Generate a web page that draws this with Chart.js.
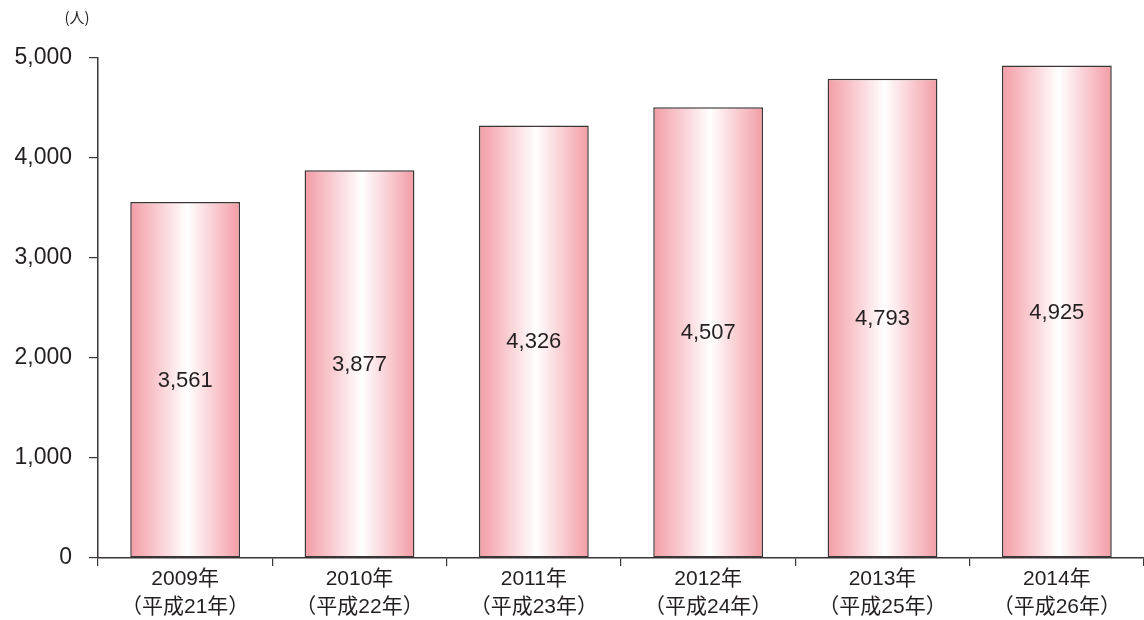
<!DOCTYPE html>
<html>
<head>
<meta charset="utf-8">
<script src="https://cdn.jsdelivr.net/npm/chart.js@4"></script>
<style>
  html, body { margin: 0; padding: 0; background: #fff; }
  #wrap { width: 1144px; height: 620px; position: relative; }
</style>
</head>
<body>
<div id="wrap"><canvas id="chart"></canvas></div>
<script>
// data
const years = ["2009年", "2010年", "2011年", "2012年", "2013年", "2014年"];
const eras = ["（平成21年）", "（平成22年）", "（平成23年）", "（平成24年）", "（平成25年）", "（平成26年）"];
const people = [3561, 3877, 4326, 4507, 4793, 4925];
const unitLabel = "(人)";

const FONT = "'Liberation Sans', 'Noto Sans CJK JP', sans-serif";
const INK = "#231f20";
const PINK = "#f39ca5";

// pink-white-pink gradient across each bar, plus value text in the middle
const barDeco = {
  id: "barDeco",
  beforeDatasetDraw(chart, args) {
    const c = chart.ctx;
    args.meta.data.forEach(el => {
      const p = el.getProps(["x", "width"], true);
      const l = p.x - p.width / 2, r = p.x + p.width / 2;
      const g = c.createLinearGradient(l, 0, r, 0);
      g.addColorStop(0, PINK);
      g.addColorStop(0.52, "#ffffff");
      g.addColorStop(1, PINK);
      el.options = Object.assign({}, el.options, { backgroundColor: g });
    });
  },
  afterDatasetsDraw(chart) {
    const c = chart.ctx;
    const meta = chart.getDatasetMeta(0);
    c.save();
    c.font = "22px " + FONT;
    c.fillStyle = INK;
    c.textAlign = "center";
    c.textBaseline = "middle";
    meta.data.forEach((el, i) => {
      const p = el.getProps(["x", "y", "base"], true);
      c.fillText(people[i].toLocaleString("en-US"), p.x, (p.y + p.base) / 2 + 1);
    });
    // unit label above the y axis
    c.font = "15px 'Noto Sans CJK JP', sans-serif";
    c.fillText(unitLabel, 77, 17);
    c.restore();
  }
};

new Chart(document.getElementById("chart"), {
  type: "bar",
  data: {
    labels: years.map((y, i) => [y, eras[i]]),
    datasets: [{
      data: people,
      backgroundColor: () => PINK,
      borderColor: "#3a3536",
      borderWidth: 1.5,
      borderSkipped: false,
      barPercentage: 0.63,
      categoryPercentage: 1
    }]
  },
  options: {
    responsive: true,
    maintainAspectRatio: false,
    animation: false,
    layout: { padding: { top: 58, left: 0, right: 0, bottom: 0 } },
    plugins: { legend: { display: false }, tooltip: { enabled: false } },
    scales: {
      x: {
        offset: true,
        grid: { offset: true, drawOnChartArea: false, drawTicks: true, tickLength: 8, color: "#3a3536", lineWidth: 1.2 },
        border: { color: "#3a3536", width: 1.5 },
        ticks: { color: INK, font: { family: FONT, size: 21, lineHeight: 1.3 }, padding: 0, maxRotation: 0, autoSkip: false },
        afterFit(s) { s.height = 62; }
      },
      y: {
        min: 0,
        max: 5000,
        grid: { drawOnChartArea: false, drawTicks: true, tickLength: 9, color: "#3a3536", lineWidth: 1.2 },
        border: { color: "#3a3536", width: 1.5 },
        ticks: {
          stepSize: 1000,
          color: INK,
          font: { family: FONT, size: 23 },
          padding: 17,
          callback: v => v.toLocaleString("en-US")
        },
        afterFit(s) { s.width = 98; }
      }
    }
  },
  plugins: [barDeco]
});
</script>
</body>
</html>
